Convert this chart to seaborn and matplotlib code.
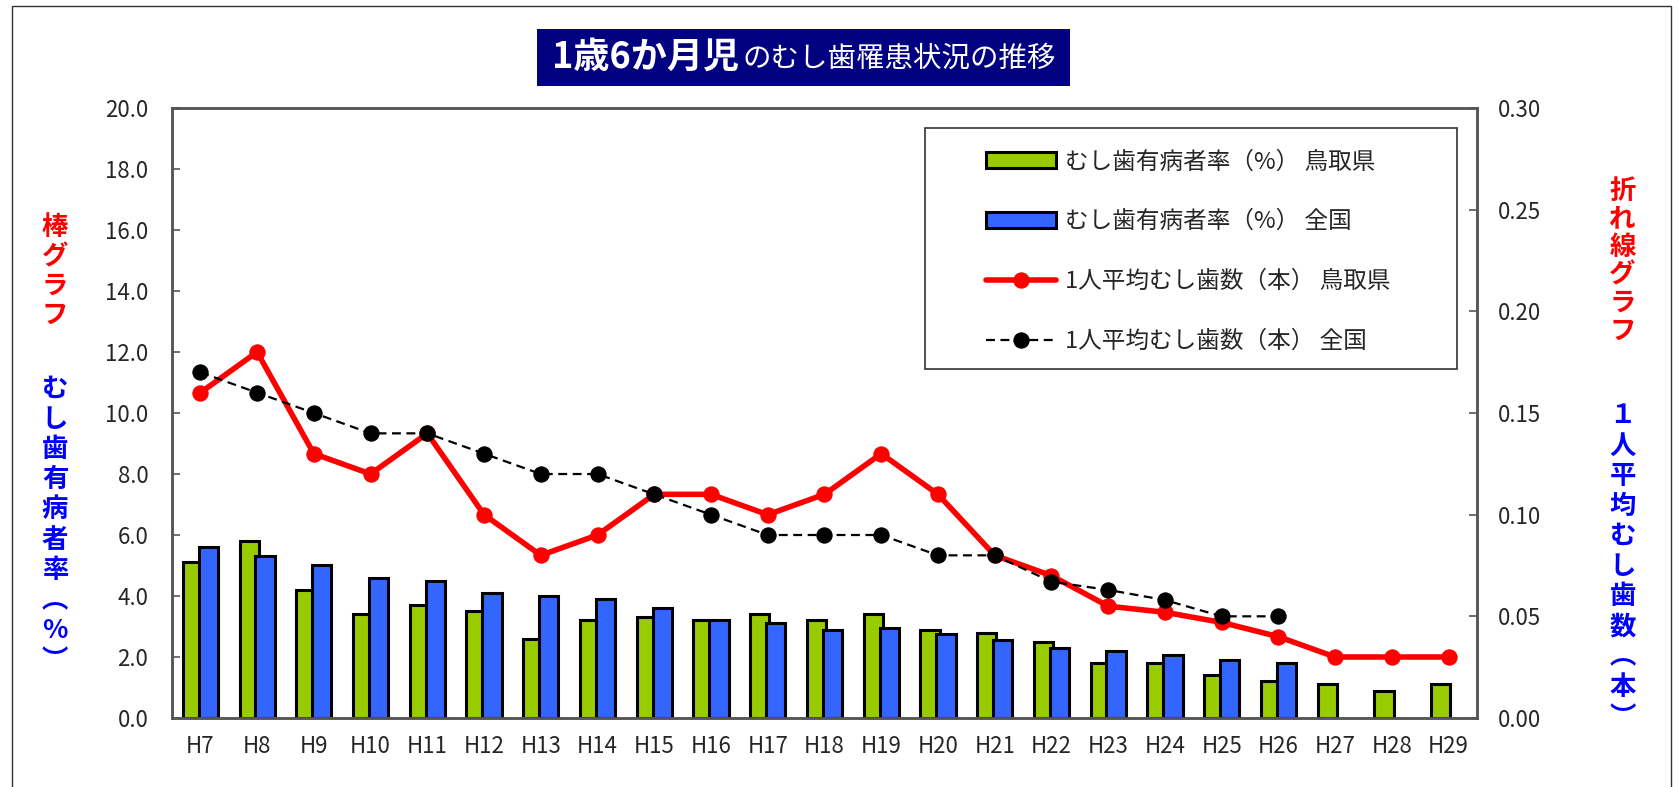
import numpy as np
import seaborn as sns
import matplotlib.pyplot as plt
import matplotlib.ticker as mticker
from matplotlib.patches import Rectangle

years = ["H7", "H8", "H9", "H10", "H11", "H12", "H13", "H14", "H15", "H16",
         "H17", "H18", "H19", "H20", "H21", "H22", "H23", "H24", "H25", "H26",
         "H27", "H28", "H29"]

# むし歯有病者率(%)
tottori_rate = [5.1, 5.8, 4.2, 3.4, 3.7, 3.5, 2.6, 3.2, 3.3, 3.2,
                3.4, 3.2, 3.4, 2.9, 2.8, 2.5, 1.8, 1.8, 1.4, 1.2,
                1.1, 0.9, 1.1]
national_rate = [5.6, 5.3, 5.0, 4.6, 4.5, 4.1, 4.0, 3.9, 3.6, 3.2,
                 3.1, 2.9, 2.95, 2.75, 2.55, 2.3, 2.2, 2.05, 1.9, 1.8]

# 1人平均むし歯数(本)
tottori_avg = [0.16, 0.18, 0.13, 0.12, 0.14, 0.10, 0.08, 0.09, 0.11, 0.11,
               0.10, 0.11, 0.13, 0.11, 0.08, 0.07, 0.055, 0.052, 0.047, 0.04,
               0.03, 0.03, 0.03]
national_avg = [0.17, 0.16, 0.15, 0.14, 0.14, 0.13, 0.12, 0.12, 0.11, 0.10,
                0.09, 0.09, 0.09, 0.08, 0.08, 0.067, 0.063, 0.058, 0.05, 0.05]

labels = ["むし歯有病者率（%） 鳥取県", "むし歯有病者率（%） 全国",
          "1人平均むし歯数（本） 鳥取県", "1人平均むし歯数（本） 全国"]

sns.set_style("white")
plt.rcParams["font.family"] = ["Noto Sans CJK JP", "DejaVu Sans"]

GREEN = "#99CC00"
BLUE = "#3366FF"
AXC = "#555555"

fig = plt.figure(figsize=(16.78, 7.87), dpi=100)
ax = fig.add_axes([0.1025, 0.0877, 0.7777, 0.775])
ax2 = ax.twinx()

pos = np.arange(len(years))
n_nat = len(national_rate)

sns.barplot(x=pos - 0.14, y=tottori_rate, native_scale=True, orient="x",
            width=0.34, color=GREEN, edgecolor="black", linewidth=2.2,
            saturation=1, errorbar=None, label=labels[0], ax=ax)
sns.barplot(x=pos[:n_nat] + 0.14, y=national_rate, native_scale=True, orient="x",
            width=0.34, color=BLUE, edgecolor="black", linewidth=2.2,
            saturation=1, errorbar=None, label=labels[1], ax=ax)

sns.lineplot(x=pos, y=tottori_avg, color="red", linewidth=4, marker="o",
             markersize=11, markeredgecolor="red", label=labels[2], ax=ax2)
sns.lineplot(x=pos[:n_nat], y=national_avg, color="black", linewidth=1.6,
             linestyle=(0, (4, 2.5)), marker="o", markersize=11,
             markeredgecolor="black", label=labels[3], ax=ax2)

ax.set_xlim(-0.5, len(years) - 0.5)
ax.set_ylim(0, 20)
ax2.set_ylim(0, 0.30)
ax.set_xlabel("")
ax.set_ylabel("")
ax2.set_ylabel("")

ax.xaxis.set_major_locator(mticker.FixedLocator(pos))
ax.xaxis.set_major_formatter(mticker.FixedFormatter(years))
ax.xaxis.set_minor_locator(mticker.FixedLocator(pos[:-1] + 0.5))
ax.yaxis.set_major_locator(mticker.MultipleLocator(2))
ax.yaxis.set_major_formatter(mticker.StrMethodFormatter("{x:.1f}"))
ax2.yaxis.set_major_locator(mticker.MultipleLocator(0.05))
ax2.yaxis.set_major_formatter(mticker.StrMethodFormatter("{x:.2f}"))

ax.tick_params(axis="x", which="major", length=0, pad=12, labelsize=16)
ax.tick_params(axis="x", which="minor", length=6, direction="in", color=AXC, width=1.2)
ax.tick_params(axis="y", length=6, direction="in", color=AXC, width=1.2,
               pad=17, labelsize=16)
ax2.tick_params(axis="y", length=6, direction="in", color=AXC, width=1.2,
                pad=15, labelsize=16)
for a in (ax, ax2):
    for s in a.spines.values():
        s.set_color(AXC)
        s.set_linewidth(1.8)

# legend (one box for both axes)
h1, l1 = ax.get_legend_handles_labels()
h2, l2 = ax2.get_legend_handles_labels()
if ax.get_legend() is not None:
    ax.get_legend().remove()
ax2.legend(h1 + h2, l1 + l2, loc="upper left", bbox_to_anchor=(0.615, 0.950),
           frameon=False, fontsize=17, borderpad=0, labelspacing=1.56,
           handlelength=2.95, handletextpad=0.4)
ax2.add_patch(Rectangle((0.577, 0.572), 0.408, 0.395, transform=ax2.transAxes,
                        fill=False, edgecolor="#333333", linewidth=1.2, zorder=5))

# title box
fig.patches.append(Rectangle((0.320, 0.8907), 0.3176, 0.0724, transform=fig.transFigure,
                             facecolor="#000080", edgecolor="none", zorder=0))
t1 = fig.text(0.329, 0.927, "1歳6か月児", color="white", fontsize=26,
              fontweight="bold", va="center", ha="left")
fig.canvas.draw()
bb = t1.get_window_extent()
fig.text(bb.x1 / fig.bbox.width + 0.002, 0.925, "のむし歯罹患状況の推移",
         color="white", fontsize=20.5, va="center", ha="left")

# vertical axis titles
fig.text(0.0328, 0.655, "\n".join("棒グラフ"), color="red", fontsize=19,
         fontweight="bold", ha="center", va="center", linespacing=1.1)
fig.text(0.0328, 0.333, "\n".join("むし歯有病者率︵%︶"), color="blue", fontsize=19,
         fontweight="bold", ha="center", va="center", linespacing=1.15)
fig.text(0.967, 0.668, "\n".join("折れ線グラフ"), color="red", fontsize=19,
         fontweight="bold", ha="center", va="center", linespacing=1.05)
fig.text(0.967, 0.28, "\n".join("１人平均むし歯数︵本︶"), color="blue", fontsize=19,
         fontweight="bold", ha="center", va="center", linespacing=1.15)

# outer frame
fig.patches.append(Rectangle((12 / 1678, -0.02), (1671 - 12) / 1678, 1.02 - 6 / 787,
                             transform=fig.transFigure, fill=False,
                             edgecolor="#333333", linewidth=1.0))

fig.savefig("out.png", dpi=100)
